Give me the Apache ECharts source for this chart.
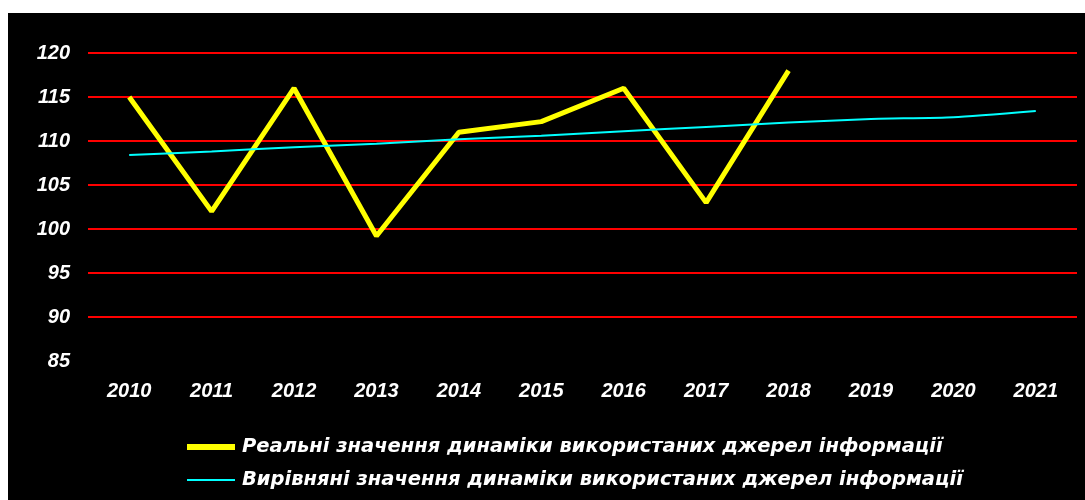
<!DOCTYPE html>
<html>
<head>
<meta charset="utf-8">
<script src="https://cdn.jsdelivr.net/npm/echarts@6/dist/echarts.min.js"></script>
<style>
  html, body { margin: 0; padding: 0; background: #fff; }
  #chart { position: absolute; left: 8px; top: 13px; width: 1077px; height: 487px; background: #000; }
</style>
</head>
<body>
<div id="chart"></div>
<script>
// роки
const years = ['2010', '2011', '2012', '2013', '2014', '2015', '2016', '2017', '2018', '2019', '2020', '2021']
// реальні значення
const realValues = [115, 102, 116, 99.2, 111, 112.2, 116, 103, 118]
// вирівняні значення (тренд)
const trendValues = [108.4, 108.8, 109.3, 109.7, 110.2, 110.6, 111.1, 111.6, 112.1, 112.5, 112.7, 113.4]

const seriesNames = [
  'Реальні значення динаміки використаних джерел інформації',
  'Вирівняні значення динаміки використаних джерел інформації'
]

const chart = echarts.init(document.getElementById('chart'))
const font = 'Liberation Sans, Arial, sans-serif'

chart.setOption({
  backgroundColor: '#000',
  animation: false,
  grid: { left: 80, right: 8, top: 40, bottom: 139 },
  legend: {
    orient: 'vertical',
    left: 174,
    top: 419,
    itemWidth: 48,
    itemHeight: 14,
    itemGap: 13,
    data: [
      { name: seriesNames[0], icon: 'path://M0,0 L48,0 L48,6 L0,6 Z', itemStyle: { color: '#ffff00' } },
      { name: seriesNames[1], icon: 'path://M0,0 L48,0 L48,2 L0,2 Z', itemStyle: { color: '#00ffff' } }
    ],
    textStyle: { color: '#fff', fontSize: 19.5, fontWeight: 'bold', fontStyle: 'italic', fontFamily: 'DejaVu Sans, sans-serif', padding: [0, 0, 0, 2] }
  },
  xAxis: {
    type: 'category',
    data: years,
    boundaryGap: true,
    axisLine: { show: false },
    axisTick: { show: false },
    axisLabel: { color: '#fff', fontSize: 20, fontWeight: 'bold', fontStyle: 'italic', fontFamily: font, margin: 20 }
  },
  yAxis: {
    type: 'value',
    min: 85,
    max: 120,
    interval: 5,
    axisLine: { show: false },
    axisTick: { show: false },
    axisLabel: {
      color: '#fff', fontSize: 20, fontWeight: 'bold', fontStyle: 'italic', fontFamily: font, margin: 18
    },
    splitLine: {
      lineStyle: { color: '#ff0000', width: 2 },
      showMinLine: false
    }
  },
  series: [
    {
      name: seriesNames[0],
      type: 'line',
      data: realValues,
      symbol: 'none',
      lineStyle: { color: '#ffff00', width: 5 },
      itemStyle: { color: '#ffff00' }
    },
    {
      name: seriesNames[1],
      type: 'line',
      data: trendValues,
      symbol: 'none',
      smooth: 0.2,
      lineStyle: { color: '#00ffff', width: 2 },
      itemStyle: { color: '#00ffff' }
    }
  ]
})
</script>
</body>
</html>
